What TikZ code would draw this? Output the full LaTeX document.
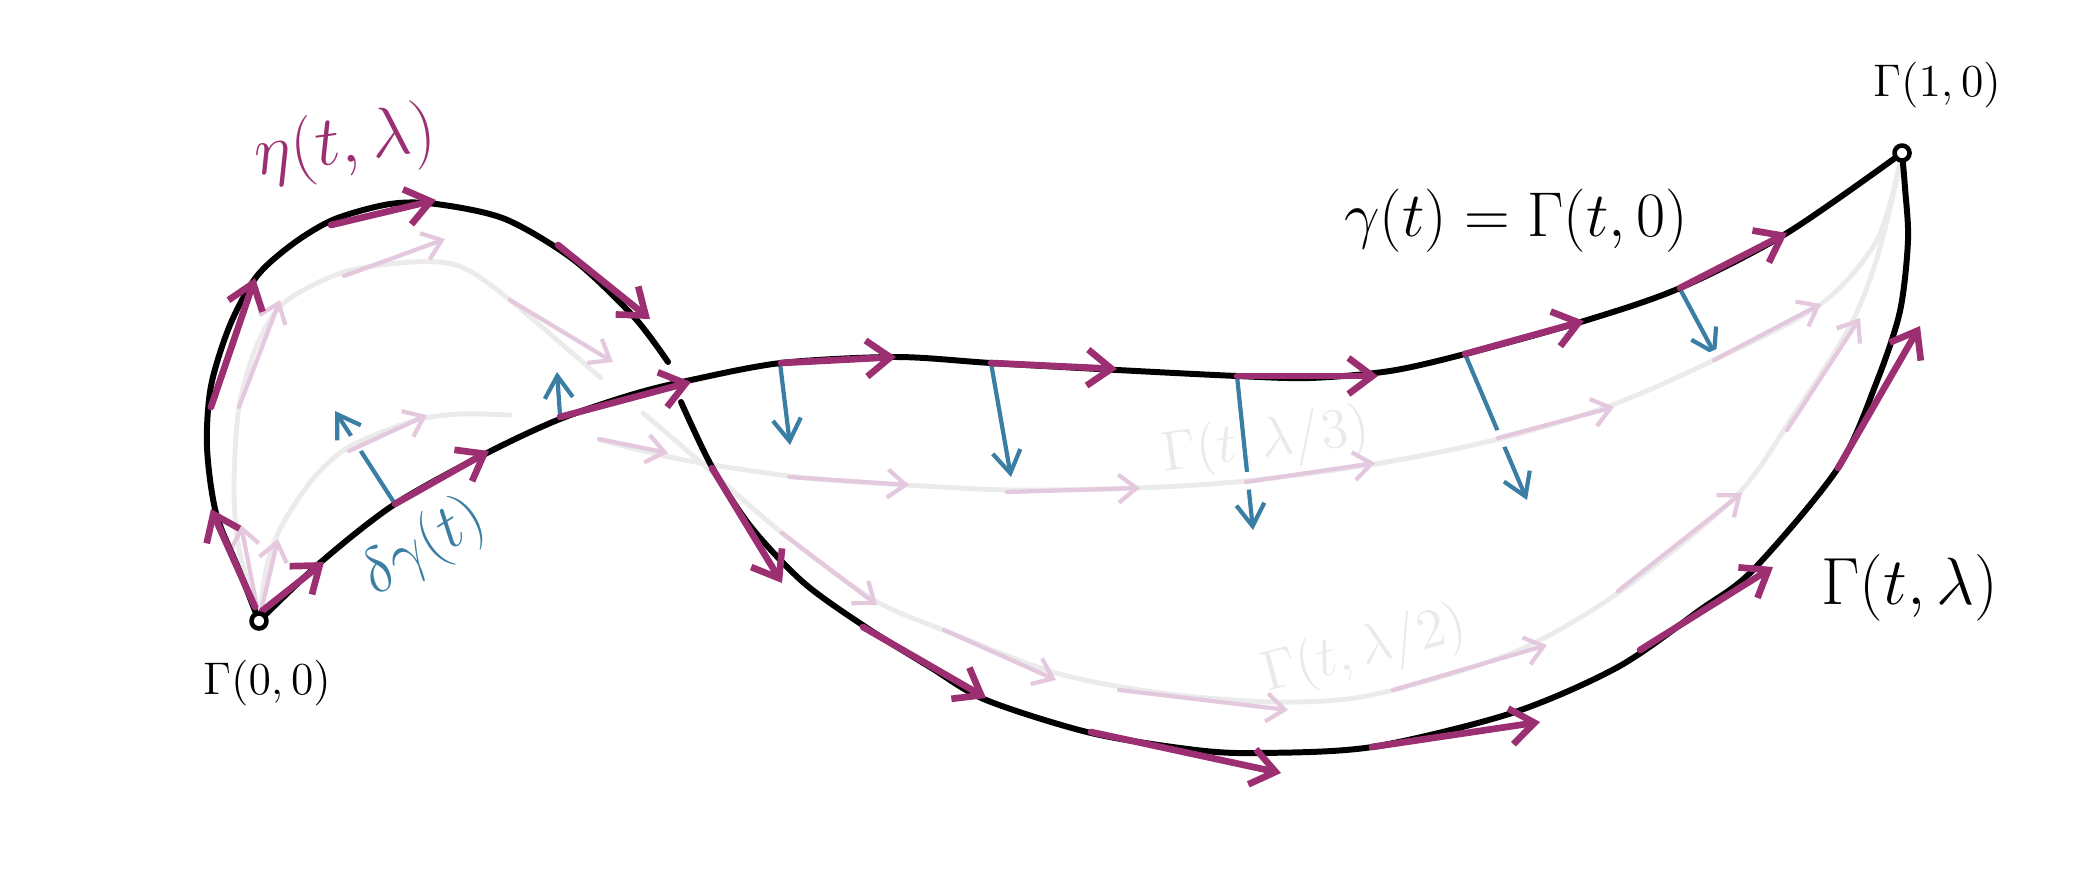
\documentclass[tikz,border=0pt]{standalone}
\usepackage{fix-cm}
\usepackage{amssymb,amsmath}
\usetikzlibrary{arrows.meta}

\definecolor{plum}{HTML}{9C2F72}
\definecolor{steel}{HTML}{3A7EA3}
\definecolor{blush}{HTML}{E4C8DE}
\definecolor{sheetgray}{HTML}{EBEBEB}
\definecolor{ghost}{HTML}{EAEAEA}

\begin{document}
\begin{tikzpicture}[x=0.01cm,y=-0.01cm,line cap=round,line join=round,
    curve/.style={line width=1.7pt},
    sheet/.style={draw=sheetgray,line width=1.4pt},
    cased/.style={preaction={draw=white,line width=5pt}},
    flow/.style={draw=plum,line width=1.9pt,-{Straight Barb[length=2.4mm,width=3.6mm]}},
    drift/.style={draw=blush,line width=1.2pt,-{Straight Barb[length=1.8mm,width=2.8mm]}},
    vary/.style={draw=steel,line width=1.2pt,-{Straight Barb[length=2.2mm,width=2.8mm]}},
    dot/.style={circle,draw,line width=1.3pt,fill=white,inner sep=0pt,minimum size=1.5mm}]

  \useasboundingbox (0,0) rectangle (2085,879);

  % faint labels of the middle curves
  \node[text=ghost,rotate=8,font=\fontsize{16}{18}\selectfont] (third) at (1266,443) {$\Gamma(t,\lambda/3)$};
  \node[text=ghost,rotate=15,font=\fontsize{16}{18}\selectfont] (half) at (1365,651) {$\Gamma(t,\lambda/2)$};

  % variation field
  \draw[vary] (395,504) -- (335,411);
  \draw[vary] (560,415) -- (557,372);
  \draw[vary] (780,363) -- (790,445);
  \draw[vary] (991,363) -- (1011,477);
  \draw[vary] (1237,376) -- (1253,530);
  \draw[vary] (1465,354) -- (1527,500);
  \draw[vary] (1680,289) -- (1716,356);

  % Gamma(t, lambda/3)
  \draw[sheet,cased] plot[smooth] coordinates {(259,621) (266,570) (280,529) (312,480) (349,447) (413,421) (459,414) (510,415)};
  \draw[sheet,cased] plot[smooth] coordinates {(600,440) (684,460) (798,477) (907,485) (1011,490) (1137,488) (1246,481) (1375,464) (1499,439) (1612,405) (1714,360) (1821,304) (1877,240) (1900,162)};
  % Gamma(t, lambda/2)
  \draw[sheet] plot[smooth] coordinates {(259,619) (239,549) (234,488) (239,407) (257,345) (285,302) (344,272) (413,262) (459,266) (505,296) (601,378)};
  \draw[sheet] plot[smooth] coordinates {(643,413) (698,460) (782,533) (874,600) (951,633) (1056,673) (1161,693) (1274,702) (1372,695) (1512,653) (1618,593) (1736,496) (1793,416) (1849,328) (1877,258) (1900,165)};

  % faint flow
  \draw[drift] (257,607) -- (241,525);
  \draw[drift] (239,407) -- (280,300);
  \draw[drift] (344,276) -- (445,239);
  \draw[drift] (510,300) -- (613,362);
  \draw[drift] (782,533) -- (877,605);
  \draw[drift] (944,630) -- (1056,680);
  \draw[drift] (1119,690) -- (1288,710);
  \draw[drift] (1393,690) -- (1547,645);
  \draw[drift] (1618,591) -- (1742,493);
  \draw[drift] (1787,430) -- (1860,318);
  \draw[drift] (262,607) -- (278,539);
  \draw[drift] (349,451) -- (427,415);
  \draw[drift] (599,439) -- (668,453);
  \draw[drift] (789,477) -- (909,485);
  \draw[drift] (1007,492) -- (1140,488);
  \draw[drift] (1246,482) -- (1375,463);
  \draw[drift] (1498,438) -- (1614,407);
  \draw[drift] (1714,360) -- (1821,304);

  % Gamma(t, lambda), broken where gamma passes over
  \draw[curve] plot[smooth] coordinates {(259,621) (239,570) (216,513) (207,447) (211,386) (230,325) (257,276) (294,243) (335,219) (390,204) (436,204) (505,219) (574,260) (634,317) (668,362)};
  \draw[curve] plot[smooth] coordinates {(681,402) (712,467) (751,527) (804,583) (867,628) (930,667) (986,700) (1091,733) (1196,750) (1260,753) (1372,747) (1512,713) (1618,667) (1700,610) (1753,570) (1838,468) (1877,381) (1900,311) (1908,240) (1905,188) (1902,153)};
  % gamma(t)
  \draw[curve] plot[smooth] coordinates {(259,621) (321,562) (395,504) (487,453) (560,419) (634,394) (691,380) (781,363) (896,357) (991,363) (1117,370) (1237,376) (1310,378) (1390,371) (1465,354) (1584,321) (1680,288) (1787,233) (1902,153)};

  % flow along gamma
  \draw[flow] (262,611) -- (324,562);
  \draw[flow] (395,504) -- (489,451);
  \draw[flow] (560,417) -- (691,382);
  \draw[flow] (781,363) -- (896,357);
  \draw[flow] (991,363) -- (1117,369);
  \draw[flow] (1237,376) -- (1378,376);
  \draw[flow] (1465,354) -- (1584,321);
  \draw[flow] (1680,288) -- (1787,233);
  % flow along Gamma(t, lambda)
  \draw[flow] (255,607) -- (211,509);
  \draw[flow] (211,407) -- (255,278);
  \draw[flow] (331,225) -- (436,200);
  \draw[flow] (558,245) -- (650,319);
  \draw[flow] (712,468) -- (782,583);
  \draw[flow] (863,627) -- (986,698);
  \draw[flow] (1091,732) -- (1281,773);
  \draw[flow] (1372,747) -- (1540,722);
  \draw[flow] (1640,650) -- (1773,567);
  \draw[flow] (1838,468) -- (1920,326);

  \node[dot] (start) at (259,621) {};
  \node[dot] (end) at (1902,153) {};

  \node[font=\fontsize{13}{15}\selectfont] (startlab) at (267,683) {$\Gamma(0,0)$};
  \node[font=\fontsize{13}{15}\selectfont] (endlab) at (1937,85) {$\Gamma(1,0)$};
  \node[text=plum,rotate=8,font=\fontsize{20}{22}\selectfont] (etalab) at (345,145) {$\eta(t,\lambda)$};
  \node[font=\fontsize{18}{20}\selectfont] (gammalab) at (1516,221) {$\gamma(t) = \Gamma(t,0)$};
  \node[font=\fontsize{19}{21}\selectfont] (lamlab) at (1910,588) {$\Gamma(t,\lambda)$};
  \node[text=steel,rotate=32,font=\fontsize{18}{20}\selectfont] (varlab) at (424,548) {$\delta\gamma(t)$};
\end{tikzpicture}
\end{document}
